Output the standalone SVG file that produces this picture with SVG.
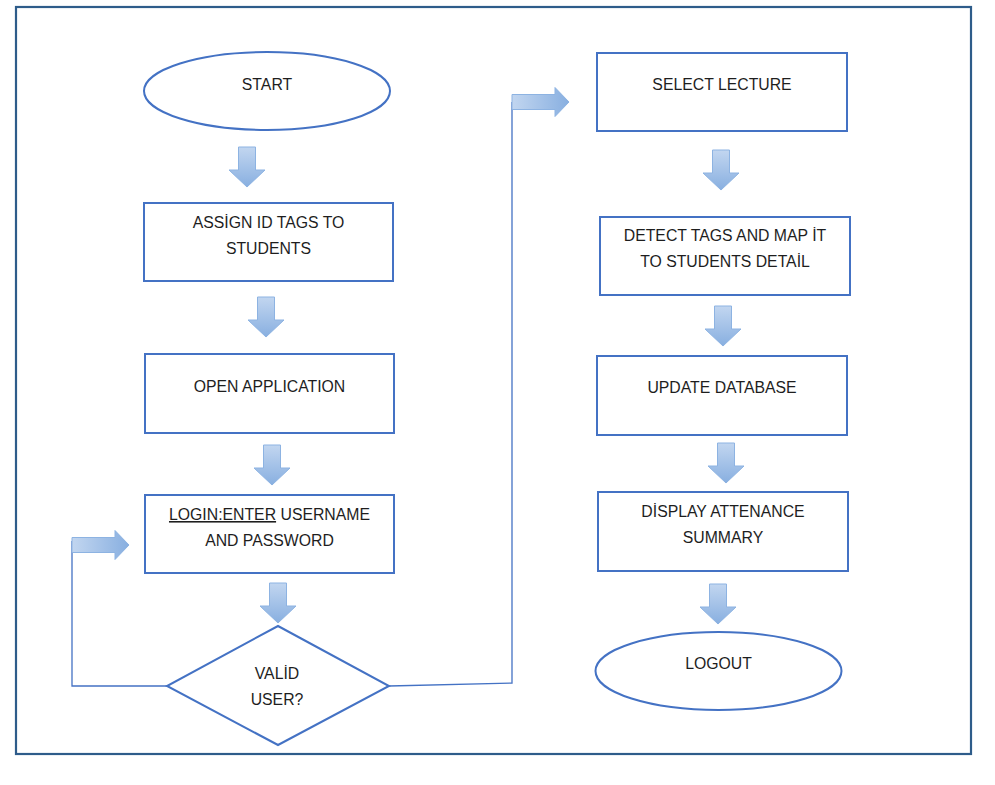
<svg xmlns="http://www.w3.org/2000/svg" width="995" height="785" viewBox="0 0 995 785">
<defs>
<linearGradient id="gv" x1="0" y1="0" x2="0" y2="1">
<stop offset="0" stop-color="#C2D6F0"/>
<stop offset="1" stop-color="#88AFE0"/>
</linearGradient>
<linearGradient id="gh" x1="0" y1="0" x2="1" y2="0">
<stop offset="0" stop-color="#C2D6F0"/>
<stop offset="1" stop-color="#88AFE0"/>
</linearGradient>
<path id="down" d="M-8.5,0 H8.5 V23 H18 L0,40 L-18,23 H-8.5 Z"/>
<path id="right" d="M0,-7.5 H43 V-14.5 L57,0 L43,14.5 V7.5 H0 Z"/>
</defs>
<style>
.box{fill:#fff;stroke:#4472C4;stroke-width:2}
.t{font-family:"Liberation Sans",Arial,sans-serif;font-size:15.8px;fill:#1e1e1e;text-anchor:middle}
.conn{fill:none;stroke:#4472C4;stroke-width:1.3}
.da{fill:url(#gv);stroke:#8DB3E2;stroke-width:1}
.ra{fill:url(#gh);stroke:#8DB3E2;stroke-width:1}
</style>
<rect width="995" height="785" fill="#fff"/>
<rect x="16" y="7" width="955" height="747" fill="none" stroke="#2E5C8A" stroke-width="2.2"/>

<g id="connectors">
<polyline class="conn" points="167,686 72,686 72,541"/>
<use href="#right" class="ra" transform="translate(72,545)"/>
<polyline class="conn" points="389,686 512,683 512,102"/>
<use href="#right" class="ra" transform="translate(512,102)"/>
<use href="#down" class="da" transform="translate(247,147)"/>
<use href="#down" class="da" transform="translate(266,297)"/>
<use href="#down" class="da" transform="translate(272,445)"/>
<use href="#down" class="da" transform="translate(278,583)"/>
<use href="#down" class="da" transform="translate(721,150)"/>
<use href="#down" class="da" transform="translate(723,306)"/>
<use href="#down" class="da" transform="translate(726,443)"/>
<use href="#down" class="da" transform="translate(718,584)"/>
</g>

<g id="start">
<ellipse class="box" cx="267" cy="91" rx="123" ry="39"/>
<text class="t" x="267" y="90">START</text>
</g>
<g id="assign">
<rect class="box" x="144" y="203" width="249" height="78"/>
<text class="t" x="268.5" y="228">ASSİGN ID TAGS TO</text>
<text class="t" x="268.5" y="254">STUDENTS</text>
</g>
<g id="open">
<rect class="box" x="145" y="354" width="249" height="79"/>
<text class="t" x="269.5" y="392">OPEN APPLICATION</text>
</g>
<g id="login">
<rect class="box" x="145" y="495" width="249" height="78"/>
<text class="t" x="269.5" y="520"><tspan text-decoration="underline">LOGIN:ENTER</tspan> USERNAME</text>
<text class="t" x="269.5" y="546">AND PASSWORD</text>
</g>
<g id="valid">
<polygon class="box" points="278,626 389,686 278,745 167,686"/>
<text class="t" x="277" y="679">VALİD</text>
<text class="t" x="277" y="705">USER?</text>
</g>
<g id="select">
<rect class="box" x="597" y="53" width="250" height="78"/>
<text class="t" x="722" y="90">SELECT LECTURE</text>
</g>
<g id="detect">
<rect class="box" x="600" y="217" width="250" height="78"/>
<text class="t" x="725" y="241">DETECT TAGS AND MAP İT</text>
<text class="t" x="725" y="267">TO STUDENTS DETAİL</text>
</g>
<g id="update">
<rect class="box" x="597" y="356" width="250" height="79"/>
<text class="t" x="722" y="393">UPDATE DATABASE</text>
</g>
<g id="display">
<rect class="box" x="598" y="492" width="250" height="79"/>
<text class="t" x="723" y="517">DİSPLAY ATTENANCE</text>
<text class="t" x="723" y="543">SUMMARY</text>
</g>
<g id="logout">
<ellipse class="box" cx="718.5" cy="671" rx="123" ry="39"/>
<text class="t" x="718.5" y="669">LOGOUT</text>
</g>
</svg>
